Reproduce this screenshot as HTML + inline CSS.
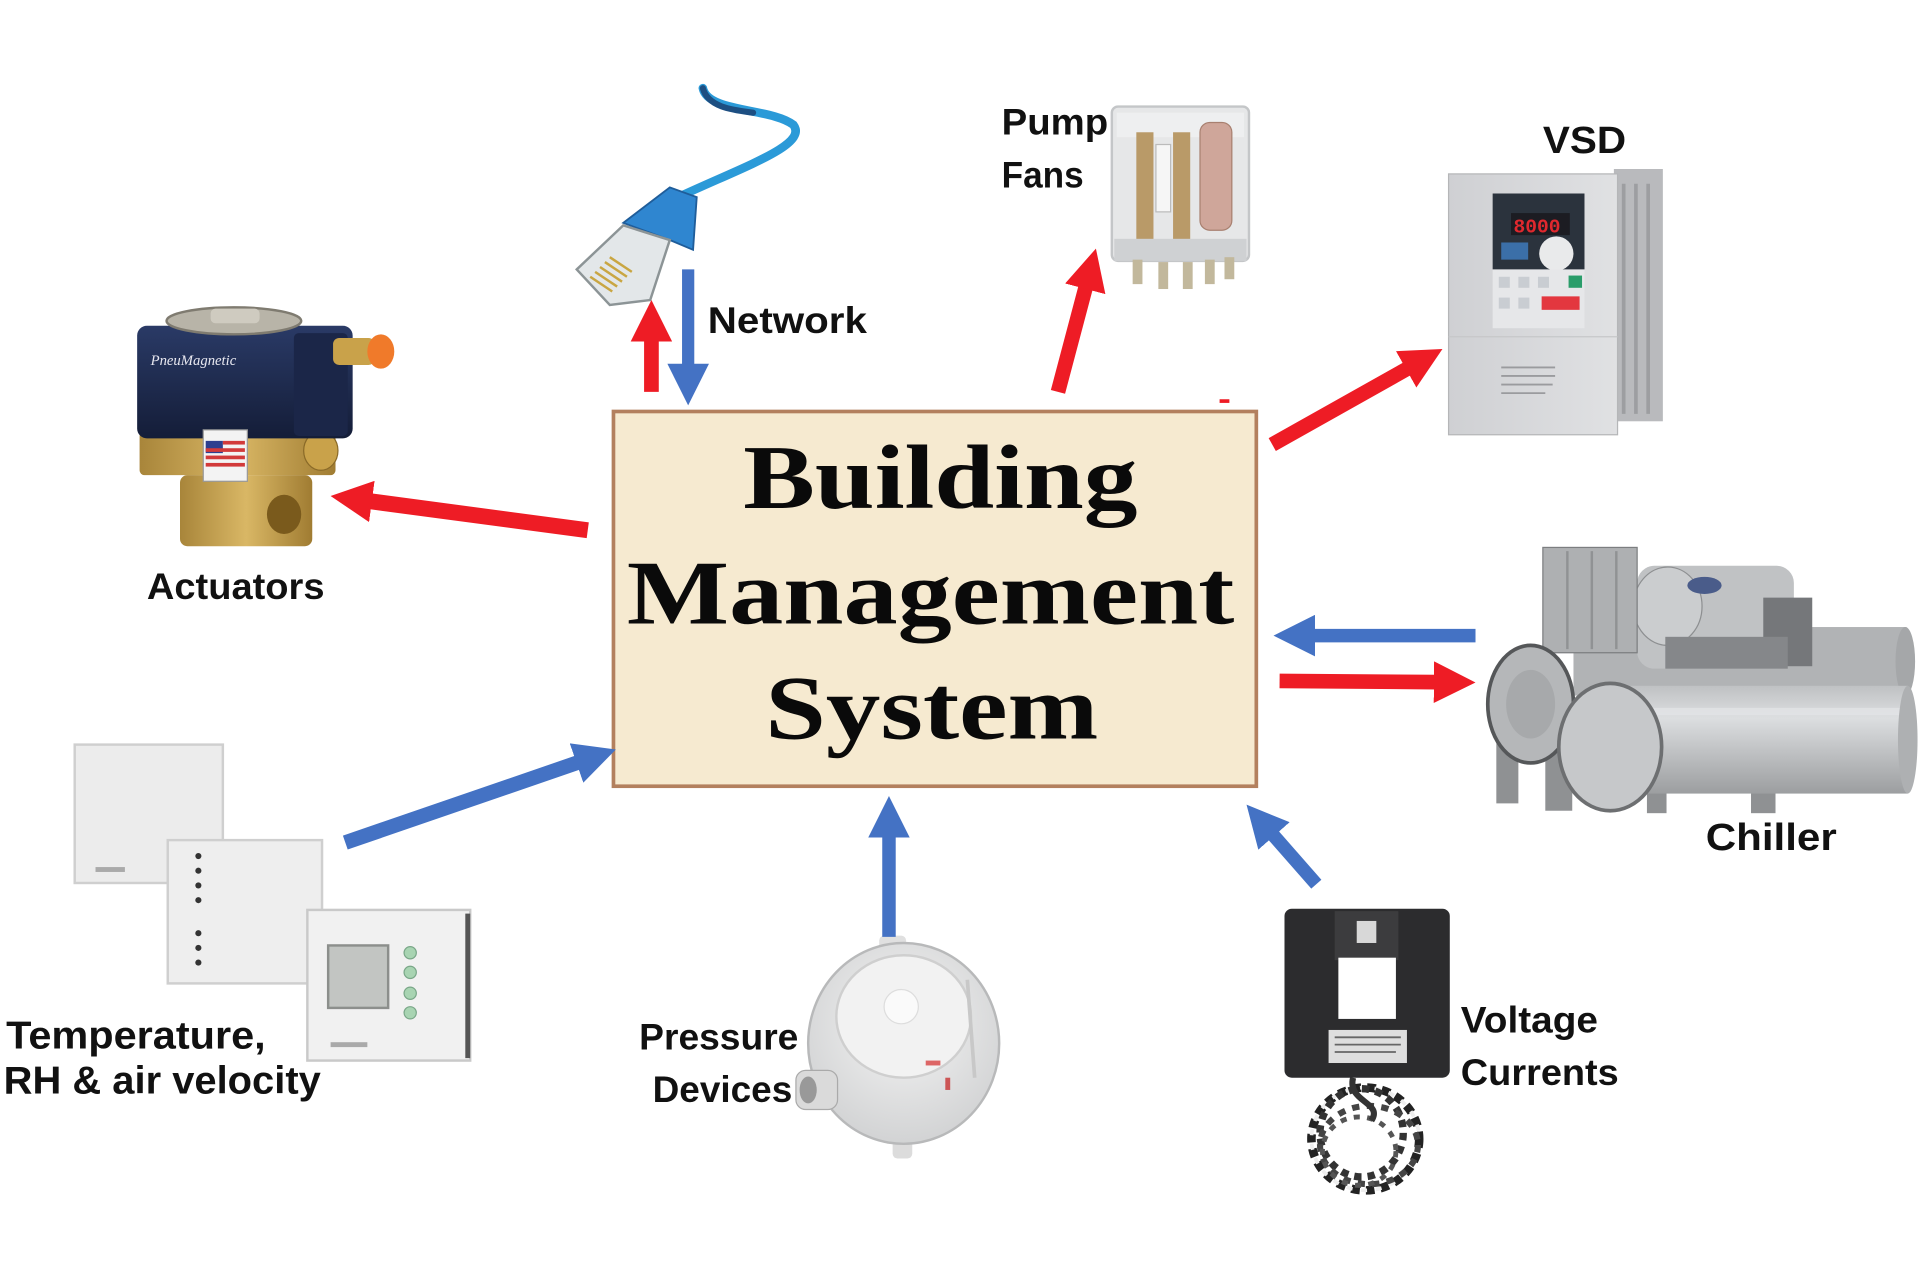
<!DOCTYPE html>
<html>
<head>
<meta charset="utf-8">
<style>
html,body{margin:0;padding:0;background:#fff;}
svg{display:block;}
.lbl{font-family:"Liberation Sans",Arial,sans-serif;font-weight:bold;fill:#111;}
.ttl{font-family:"Liberation Serif","Times New Roman",serif;font-weight:bold;fill:#0a0a0a;}
</style>
</head>
<body>
<svg width="1920" height="1281" viewBox="0 0 1568 1046" preserveAspectRatio="none" xmlns="http://www.w3.org/2000/svg">
<defs>
  <marker id="hr" markerUnits="userSpaceOnUse" viewBox="0 0 34 34" markerWidth="34" markerHeight="34" refX="2" refY="17" orient="auto">
    <path d="M0,0 L34,17 L0,34 Z" fill="#ee1c25"/>
  </marker>
  <marker id="hb" markerUnits="userSpaceOnUse" viewBox="0 0 34 34" markerWidth="34" markerHeight="34" refX="2" refY="17" orient="auto">
    <path d="M0,0 L34,17 L0,34 Z" fill="#4472c4"/>
  </marker>
  <linearGradient id="navy" x1="0" y1="0" x2="0" y2="1">
    <stop offset="0" stop-color="#2a3a66"/><stop offset="1" stop-color="#141d38"/>
  </linearGradient>
  <linearGradient id="brass" x1="0" y1="0" x2="1" y2="0">
    <stop offset="0" stop-color="#a8853a"/><stop offset="0.5" stop-color="#d9b765"/><stop offset="1" stop-color="#a07c32"/>
  </linearGradient>
  <linearGradient id="cyl" x1="0" y1="0" x2="0" y2="1">
    <stop offset="0" stop-color="#bfc1c3"/><stop offset="0.3" stop-color="#dcdee0"/><stop offset="1" stop-color="#9c9ea0"/>
  </linearGradient>
  <linearGradient id="vsd" x1="0" y1="0" x2="1" y2="0">
    <stop offset="0" stop-color="#cfd0d3"/><stop offset="1" stop-color="#e0e1e3"/>
  </linearGradient>
  <radialGradient id="press" cx="0.5" cy="0.4" r="0.6">
    <stop offset="0" stop-color="#f4f4f4"/><stop offset="1" stop-color="#d2d3d4"/>
  </radialGradient>
</defs>

<!-- ===== Network cable ===== -->
<path d="M574,72 C578,92 630,88 648,102 C660,118 610,135 556,160" fill="none" stroke="#2b9ad8" stroke-width="7" stroke-linecap="round"/>
<path d="M574,72 C578,88 600,90 615,92" fill="none" stroke="#1d4f82" stroke-width="5" stroke-linecap="round"/>
<polygon points="509,182 547,153 569,161 566,204 547,196" fill="#2f86d0" stroke="#1f5d9a" stroke-width="1.5"/>
<polygon points="471,220 509,184 547,196 531,245 498,249" fill="#e3e7e9" stroke="#8c9496" stroke-width="2"/>
<g stroke="#c9a642" stroke-width="2">
  <line x1="482" y1="226" x2="500" y2="238"/><line x1="486" y1="222" x2="504" y2="234"/>
  <line x1="490" y1="218" x2="508" y2="230"/><line x1="494" y1="214" x2="512" y2="226"/>
  <line x1="498" y1="210" x2="516" y2="222"/>
</g>

<!-- ===== Actuator (solenoid valve) ===== -->
<rect x="147" y="388" width="108" height="58" rx="6" fill="url(#brass)"/>
<ellipse cx="232" cy="420" rx="14" ry="16" fill="#7a5a1c"/>
<rect x="114" y="352" width="160" height="36" rx="4" fill="url(#brass)"/>
<ellipse cx="262" cy="368" rx="14" ry="16" fill="#c9a24a" stroke="#8a6a28"/>
<rect x="112" y="266" width="176" height="92" rx="8" fill="url(#navy)"/>
<rect x="240" y="272" width="44" height="84" rx="4" fill="#1b2648"/>
<ellipse cx="191" cy="262" rx="55" ry="11" fill="#b8b4a8" stroke="#7f7b70" stroke-width="2"/>
<rect x="172" y="252" width="40" height="12" rx="4" fill="#cfcbc0"/>
<text x="123" y="298" font-family="Liberation Serif,serif" font-style="italic" font-size="12" fill="#e8e8f0">PneuMagnetic</text>
<rect x="166" y="351" width="36" height="42" fill="#f3f3f3" stroke="#999"/>
<rect x="168" y="360" width="14" height="10" fill="#2d3f8f"/>
<g fill="#d23a3a"><rect x="182" y="360" width="18" height="3"/><rect x="168" y="366" width="32" height="3"/><rect x="168" y="372" width="32" height="3"/><rect x="168" y="378" width="32" height="3"/></g>
<rect x="272" y="276" width="34" height="22" rx="5" fill="#c9a24a"/>
<ellipse cx="311" cy="287" rx="11" ry="14" fill="#f07a2a"/>

<!-- ===== Relay ===== -->
<rect x="908" y="87" width="112" height="126" rx="5" fill="#e6e7e8" stroke="#c4c6c8" stroke-width="2"/>
<rect x="912" y="92" width="104" height="20" fill="#eeeff0"/>
<rect x="928" y="108" width="14" height="88" fill="#b99a68"/>
<rect x="958" y="108" width="14" height="88" fill="#b99a68"/>
<rect x="944" y="118" width="12" height="55" fill="#f6f6f6" stroke="#bbb"/>
<rect x="980" y="100" width="26" height="88" rx="8" fill="#cfa69a" stroke="#a88070"/>
<rect x="910" y="195" width="108" height="18" fill="#cfd1d3"/>
<g fill="#c2b89c">
  <rect x="925" y="212" width="8" height="20"/><rect x="946" y="214" width="8" height="22"/>
  <rect x="966" y="214" width="8" height="22"/><rect x="984" y="212" width="8" height="20"/><rect x="1000" y="210" width="8" height="18"/>
</g>

<!-- ===== VSD ===== -->
<rect x="1318" y="138" width="40" height="206" fill="#b9babd"/>
<g stroke="#9d9ea1" stroke-width="3"><line x1="1326" y1="150" x2="1326" y2="338"/><line x1="1336" y1="150" x2="1336" y2="338"/><line x1="1346" y1="150" x2="1346" y2="338"/></g>
<rect x="1183" y="142" width="138" height="213" fill="url(#vsd)" stroke="#b5b6b8"/>
<rect x="1219" y="158" width="75" height="62" fill="#2b333d"/>
<rect x="1234" y="174" width="48" height="18" fill="#1c1c22"/>
<text x="1236" y="190" font-family="Liberation Mono,monospace" font-weight="bold" font-size="16" fill="#e0282e">8000</text>
<rect x="1226" y="198" width="22" height="14" fill="#3b6fa8"/>
<circle cx="1271" cy="207" r="14" fill="#e9eaeb"/>
<rect x="1219" y="220" width="75" height="48" fill="#e6e7e9"/>
<g fill="#c9cdd2"><rect x="1224" y="226" width="9" height="9"/><rect x="1240" y="226" width="9" height="9"/><rect x="1256" y="226" width="9" height="9"/><rect x="1224" y="243" width="9" height="9"/><rect x="1240" y="243" width="9" height="9"/></g>
<rect x="1281" y="225" width="11" height="10" fill="#2a9d6a"/>
<rect x="1259" y="242" width="31" height="11" fill="#e3373f"/>
<g stroke="#9a9b9e" stroke-width="1.5"><line x1="1226" y1="300" x2="1270" y2="300"/><line x1="1226" y1="307" x2="1270" y2="307"/><line x1="1226" y1="314" x2="1268" y2="314"/><line x1="1226" y1="321" x2="1262" y2="321"/></g>
<line x1="1183" y1="275" x2="1321" y2="275" stroke="#c6c7c9"/>

<!-- ===== Chiller ===== -->
<g fill="#8f9193">
  <rect x="1222" y="600" width="18" height="56"/><rect x="1262" y="612" width="22" height="50"/>
  <rect x="1430" y="622" width="20" height="42"/><rect x="1538" y="610" width="20" height="30"/>
  <rect x="1345" y="640" width="16" height="24"/>
</g>
<rect x="1285" y="512" width="272" height="56" fill="#b1b3b5"/>
<ellipse cx="1556" cy="540" rx="8" ry="28" fill="#a5a7a9"/>
<rect x="1337" y="462" width="128" height="84" rx="14" fill="#c0c2c4"/>
<ellipse cx="1362" cy="495" rx="28" ry="32" fill="#cbcdcf" stroke="#8d8f91"/>
<ellipse cx="1392" cy="478" rx="14" ry="7" fill="#4a5c8a"/>
<rect x="1440" y="488" width="40" height="56" fill="#75777a"/>
<rect x="1360" y="520" width="100" height="26" fill="#85878a"/>
<rect x="1260" y="447" width="77" height="86" fill="#aeb0b2" stroke="#7c7e80"/>
<g stroke="#909294" stroke-width="2"><line x1="1280" y1="450" x2="1280" y2="530"/><line x1="1300" y1="450" x2="1300" y2="530"/><line x1="1320" y1="450" x2="1320" y2="530"/></g>
<rect x="1312" y="560" width="246" height="88" fill="url(#cyl)"/>
<rect x="1312" y="578" width="246" height="6" fill="#e4e6e8" opacity="0.7"/>
<ellipse cx="1558" cy="604" rx="8" ry="44" fill="#aeb0b2"/>
<ellipse cx="1250" cy="575" rx="35" ry="48" fill="#b5b7b9" stroke="#555759" stroke-width="3"/>
<ellipse cx="1250" cy="575" rx="20" ry="28" fill="#a7a9ab"/>
<ellipse cx="1315" cy="610" rx="42" ry="52" fill="#c6c8ca" stroke="#6d6f71" stroke-width="3"/>

<!-- ===== Thermostats ===== -->
<rect x="61" y="608" width="121" height="113" fill="#ececec" stroke="#cfcfcf" stroke-width="2"/>
<rect x="78" y="708" width="24" height="4" fill="#aaa"/>
<rect x="137" y="686" width="126" height="117" fill="#eeeeee" stroke="#cfcfcf" stroke-width="2"/>
<g fill="#333"><circle cx="162" cy="699" r="2.5"/><circle cx="162" cy="711" r="2.5"/><circle cx="162" cy="723" r="2.5"/><circle cx="162" cy="735" r="2.5"/><circle cx="162" cy="762" r="2.5"/><circle cx="162" cy="774" r="2.5"/><circle cx="162" cy="786" r="2.5"/></g>
<rect x="251" y="743" width="133" height="123" fill="#f1f1f1" stroke="#c9c9c9" stroke-width="2"/>
<rect x="380" y="746" width="4" height="118" fill="#555"/>
<rect x="268" y="772" width="49" height="51" fill="#c2c5c2" stroke="#8c8f8c" stroke-width="2"/>
<g fill="#a8d4b2" stroke="#7aa788"><circle cx="335" cy="778" r="5"/><circle cx="335" cy="794" r="5"/><circle cx="335" cy="811" r="5"/><circle cx="335" cy="827" r="5"/></g>
<rect x="270" y="851" width="30" height="4" fill="#aaa"/>

<!-- ===== Pressure device ===== -->
<rect x="729" y="920" width="16" height="26" rx="4" fill="#dcdcdc"/>
<rect x="718" y="764" width="22" height="18" rx="4" fill="#e0e0e0"/>
<ellipse cx="738" cy="852" rx="78" ry="82" fill="url(#press)" stroke="#b8b9ba" stroke-width="2"/>
<ellipse cx="738" cy="830" rx="55" ry="50" fill="#f2f2f2" stroke="#cfcfcf" stroke-width="2"/>
<circle cx="736" cy="822" r="14" fill="#fafafa" stroke="#ddd"/>
<path d="M790,800 L796,880" stroke="#c8c8c8" stroke-width="3"/>
<rect x="756" y="866" width="12" height="4" fill="#d66"/>
<rect x="772" y="880" width="4" height="10" fill="#c55"/>
<rect x="650" y="874" width="34" height="32" rx="8" fill="#dadada" stroke="#aaa"/>
<ellipse cx="660" cy="890" rx="7" ry="11" fill="#999"/>

<!-- ===== Current transformer ===== -->
<ellipse cx="1115" cy="930" rx="44" ry="42" fill="none" stroke="#222" stroke-width="7" stroke-dasharray="7 5"/>
<ellipse cx="1115" cy="930" rx="44" ry="42" fill="none" stroke="#eee" stroke-width="3" stroke-dasharray="5 7" stroke-dashoffset="6"/>
<ellipse cx="1112" cy="925" rx="34" ry="36" fill="none" stroke="#333" stroke-width="6" stroke-dasharray="6 5"/>
<ellipse cx="1118" cy="935" rx="40" ry="32" fill="none" stroke="#444" stroke-width="5" stroke-dasharray="6 6"/>
<ellipse cx="1110" cy="940" rx="30" ry="28" fill="none" stroke="#555" stroke-width="4" stroke-dasharray="5 6"/>
<path d="M1105,880 C1100,900 1130,900 1120,915" fill="none" stroke="#333" stroke-width="5"/>
<rect x="1049" y="742" width="135" height="138" rx="6" fill="#2c2c2e"/>
<rect x="1090" y="744" width="52" height="40" fill="#3c3c3e"/>
<rect x="1108" y="752" width="16" height="18" fill="#d8d8d8"/>
<rect x="1093" y="782" width="47" height="50" fill="#ffffff"/>
<rect x="1085" y="841" width="64" height="27" fill="#dedede"/>
<g stroke="#666" stroke-width="1.5"><line x1="1090" y1="847" x2="1144" y2="847"/><line x1="1090" y1="853" x2="1144" y2="853"/><line x1="1090" y1="859" x2="1140" y2="859"/></g>

<!-- ===== Central box ===== -->
<rect x="501" y="336" width="525" height="306" fill="#f6ead0" stroke="#b3805e" stroke-width="3"/>
<text class="ttl" x="607" y="415" font-size="74" textLength="322" lengthAdjust="spacingAndGlyphs">Building</text>
<text class="ttl" x="512" y="509" font-size="74" textLength="496" lengthAdjust="spacingAndGlyphs">Management</text>
<text class="ttl" x="625" y="603" font-size="74" textLength="272" lengthAdjust="spacingAndGlyphs">System</text>

<!-- ===== Arrows ===== -->
<line x1="532" y1="320" x2="532" y2="277" stroke="#ee1c25" stroke-width="12" marker-end="url(#hr)"/>
<line x1="562" y1="220" x2="562" y2="299" stroke="#4472c4" stroke-width="10" marker-end="url(#hb)"/>
<line x1="480" y1="433" x2="301.7" y2="409.2" stroke="#ee1c25" stroke-width="13" marker-end="url(#hr)"/>
<line x1="864" y1="320" x2="886.8" y2="233.9" stroke="#ee1c25" stroke-width="12" marker-end="url(#hr)"/>
<line x1="1039" y1="363" x2="1150.1" y2="300.6" stroke="#ee1c25" stroke-width="12" marker-end="url(#hr)"/>
<line x1="1205" y1="519" x2="1072" y2="519" stroke="#4472c4" stroke-width="11" marker-end="url(#hb)"/>
<line x1="1045" y1="556" x2="1173" y2="557" stroke="#ee1c25" stroke-width="12" marker-end="url(#hr)"/>
<line x1="282" y1="688" x2="472.7" y2="622.4" stroke="#4472c4" stroke-width="12" marker-end="url(#hb)"/>
<line x1="726" y1="765" x2="726" y2="682" stroke="#4472c4" stroke-width="11" marker-end="url(#hb)"/>
<line x1="1075" y1="722" x2="1039.1" y2="681.1" stroke="#4472c4" stroke-width="11" marker-end="url(#hb)"/>
<rect x="996" y="326" width="8" height="3" fill="#ee1c25"/>

<!-- ===== Labels ===== -->
<text class="lbl" x="578" y="272" font-size="30" textLength="130" lengthAdjust="spacingAndGlyphs">Network</text>
<text class="lbl" x="818" y="110" font-size="30" textLength="87" lengthAdjust="spacingAndGlyphs">Pump</text>
<text class="lbl" x="818" y="153" font-size="30" textLength="67" lengthAdjust="spacingAndGlyphs">Fans</text>
<text class="lbl" x="1260" y="125" font-size="31" textLength="68" lengthAdjust="spacingAndGlyphs">VSD</text>
<text class="lbl" x="120" y="489" font-size="30" textLength="145" lengthAdjust="spacingAndGlyphs">Actuators</text>
<text class="lbl" x="1393" y="694" font-size="31" textLength="107" lengthAdjust="spacingAndGlyphs">Chiller</text>
<text class="lbl" x="5" y="856" font-size="32" textLength="212" lengthAdjust="spacingAndGlyphs">Temperature,</text>
<text class="lbl" x="3" y="893" font-size="32" textLength="259" lengthAdjust="spacingAndGlyphs">RH &amp; air velocity</text>
<text class="lbl" x="522" y="857" font-size="30" textLength="130" lengthAdjust="spacingAndGlyphs">Pressure</text>
<text class="lbl" x="533" y="900" font-size="30" textLength="114" lengthAdjust="spacingAndGlyphs">Devices</text>
<text class="lbl" x="1193" y="843" font-size="30" textLength="112" lengthAdjust="spacingAndGlyphs">Voltage</text>
<text class="lbl" x="1193" y="886" font-size="30" textLength="129" lengthAdjust="spacingAndGlyphs">Currents</text>
</svg>
</body>
</html>
